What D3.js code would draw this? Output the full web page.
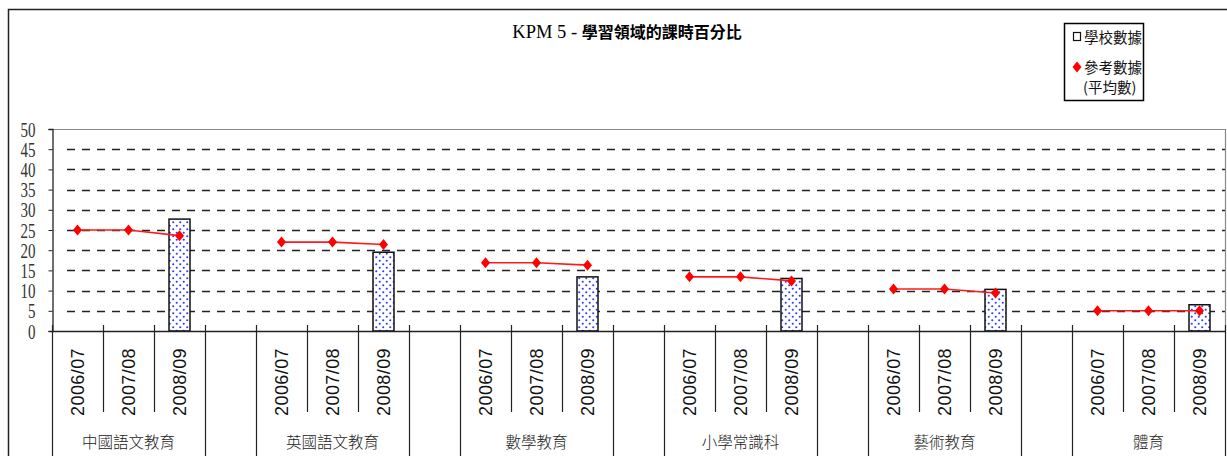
<!DOCTYPE html>
<html><head><meta charset="utf-8">
<script src="https://cdn.jsdelivr.net/npm/d3@7/dist/d3.min.js"></script>
<style>
html,body{margin:0;padding:0;background:#fff;}
svg{display:block;}
</style></head>
<body>
<svg id="chart" width="1227" height="456"></svg>
<script>
const groups = ["中國語文教育","英國語文教育","數學教育","小學常識科","藝術教育","體育"];
const years = ["2006/07","2007/08","2008/09"];
// school data (only 2008/09 available)
const schoolValues = [27.7, 19.5, 13.4, 13.0, 10.3, 6.5];
// reference data (average), per group for three years
const refValues = [
  [25.0, 25.0, 23.6],
  [22.0, 22.0, 21.4],
  [16.9, 16.9, 16.3],
  [13.4, 13.4, 12.4],
  [10.4, 10.4, 9.4],
  [5.0, 5.0, 5.0]
];
const yTicks = [0,5,10,15,20,25,30,35,40,45,50];
const titleLatin = "KPM 5 - ";
const titleCJK = "學習領域的課時百分比";
const legendLabels = ["學校數據","參考數據","(平均數)"];

const svg = d3.select("#chart");
const pL = 52, pR = 1225, pT = 129, pB = 331;

// categories: 3 years per group with a gap slot between groups
const cats = [];
groups.forEach((g, gi) => {
  years.forEach(y => cats.push(gi + "|" + y));
  if (gi < groups.length - 1) cats.push("gap" + gi);
});

const x = d3.scaleBand().domain(cats).range([pL, pR]).padding(0);
const y = d3.scaleLinear().domain([0, 50]).range([pB, pT]);

// pattern
const defs = svg.append("defs");
const pat = defs.append("pattern").attr("id","dots").attr("patternUnits","userSpaceOnUse")
  .attr("width",7).attr("height",7);
pat.append("rect").attr("width",7).attr("height",7).attr("fill","#fff");
pat.append("circle").attr("cx",1.75).attr("cy",1.75).attr("r",1.05).attr("fill","#2a3cff");
pat.append("circle").attr("cx",5.25).attr("cy",5.25).attr("r",1.05).attr("fill","#2a3cff");

// outer border
svg.append("rect").attr("x",8.5).attr("y",9.5).attr("width",1240).attr("height",470)
  .attr("fill","none").attr("stroke","#222").attr("stroke-width",1.5);

// gridlines
const grid = svg.append("g").attr("class","grid");
grid.selectAll("line").data(yTicks.filter(t => t > 0 && t < 50)).join("line")
  .attr("x1", pL + 15).attr("x2", pR)
  .attr("y1", d => Math.round(y(d)) + 0.5).attr("y2", d => Math.round(y(d)) + 0.5)
  .attr("stroke","#222").attr("stroke-width",1.3).attr("stroke-dasharray","8,7");

// plot border top/right
svg.append("line").attr("x1",pL).attr("x2",pR).attr("y1",y(50)+0.5).attr("y2",y(50)+0.5)
  .attr("stroke","#888").attr("stroke-width",1.2);
svg.append("line").attr("x1",pR+0.5).attr("x2",pR+0.5).attr("y1",y(50)).attr("y2",y(0))
  .attr("stroke","#888").attr("stroke-width",1.2);

// y axis
const yAxis = d3.axisLeft(y).tickValues(yTicks).tickSize(4).tickFormat(d3.format("d"));
const yg = svg.append("g").attr("transform",`translate(${pL+0.5},0)`).call(yAxis);
yg.select(".domain").attr("stroke","#222").attr("stroke-width",1.3);
yg.selectAll(".tick line").attr("stroke","#222");
yg.selectAll(".tick text").remove();
yg.selectAll(".tick").append("text")
  .attr("text-anchor","end")
  .attr("transform","translate(-17,7) scale(0.75,1)")
  .attr("font-family","'Liberation Serif','Times New Roman',serif")
  .attr("font-size",20).attr("fill","#333")
  .text(d => d);

// bars
svg.append("g").selectAll("rect").data(schoolValues).join("rect")
  .attr("x", (d,i) => x(i + "|" + years[2]) + x.bandwidth()/2 - 10.5)
  .attr("width", 21)
  .attr("y", d => y(d))
  .attr("height", d => y(0) - y(d))
  .attr("fill","url(#dots)").attr("stroke","#111").attr("stroke-width",1.5);

// x axis line
svg.append("line").attr("x1",pL).attr("x2",pR).attr("y1",pB+0.5).attr("y2",pB+0.5)
  .attr("stroke","#222").attr("stroke-width",1.5);

// ticks: boundaries of each slot
const bounds = cats.map(c => x(c)).concat([pR]);
const isLong = (i) => {
  const prev = cats[i-1], next = cats[i];
  if (!prev || !next) return true;
  return prev.startsWith("gap") || next.startsWith("gap");
};
svg.append("g").selectAll("line").data(bounds).join("line")
  .attr("x1", d => Math.round(d)+0.5).attr("x2", d => Math.round(d)+0.5)
  .attr("y1", pB - 6)
  .attr("y2", (d,i) => isLong(i) ? 456 : 412)
  .attr("stroke","#222").attr("stroke-width",1.2);

// year labels
const yearData = [];
groups.forEach((g, gi) => years.forEach(yr => yearData.push({key: gi + "|" + yr, yr})));
svg.append("g").selectAll("text").data(yearData).join("text")
  .attr("transform", d => `translate(${x(d.key) + x.bandwidth()/2 + 6.5},${348}) rotate(-90)`)
  .attr("text-anchor","end")
  .attr("font-family","'Liberation Sans',Arial,sans-serif")
  .attr("font-size",18).attr("letter-spacing",0.4).attr("fill","#111")
  .text(d => d.yr);

// group labels
svg.append("g").selectAll("text").data(groups).join("text")
  .attr("x", (d,gi) => x(gi + "|" + years[1]) + x.bandwidth()/2)
  .attr("y", 448)
  .attr("text-anchor","middle")
  .attr("font-family","'Noto Sans CJK TC','Noto Sans CJK SC',sans-serif")
  .attr("font-weight",300)
  .attr("font-size",15.5).attr("fill","#222")
  .text(d => d);

// reference lines
const line = d3.line().x(d => x(d.key) + x.bandwidth()/2).y(d => y(d.v));
const refData = refValues.map((arr, gi) => arr.map((v, yi) => ({key: gi + "|" + years[yi], v})));
const refG = svg.append("g");
refG.selectAll("path.ln").data(refData).join("path").attr("class","ln")
  .attr("d", line).attr("fill","none").attr("stroke","#ff1a1a").attr("stroke-width",1.6);
const diamond = "M0,-5.5L4.5,0L0,5.5L-4.5,0Z";
refG.selectAll("path.pt").data(refData.flat()).join("path").attr("class","pt")
  .attr("transform", d => `translate(${x(d.key) + x.bandwidth()/2},${y(d.v)})`)
  .attr("d", diamond).attr("fill","#ff0000");

// title
const title = svg.append("text").attr("x", 627).attr("y", 38).attr("text-anchor","middle")
  .attr("fill","#000");
title.append("tspan").attr("font-family","'Liberation Serif','Times New Roman',serif")
  .attr("font-size",18.5).text(titleLatin);
title.append("tspan").attr("font-family","'Noto Sans CJK TC',sans-serif").attr("font-weight",700)
  .attr("font-size",16).text(titleCJK);

// legend
const lg = svg.append("g");
lg.append("rect").attr("x",1064.5).attr("y",23.5).attr("width",79).attr("height",77)
  .attr("fill","#fff").attr("stroke","#000").attr("stroke-width",1.5);
lg.append("rect").attr("x",1073.5).attr("y",32.5).attr("width",7).attr("height",8)
  .attr("fill","#fff").attr("stroke","#111").attr("stroke-width",1.2);
lg.append("path").attr("transform","translate(1077,67)").attr("d",diamond).attr("fill","#ff0000");
const lt = [[1084,43],[1084,73],[1083,93]];
lg.selectAll("text").data(legendLabels).join("text")
  .attr("x",(d,i)=>lt[i][0]).attr("y",(d,i)=>lt[i][1])
  .attr("font-family","'Noto Sans CJK TC',sans-serif").attr("font-size",14.5)
  .attr("fill","#111").text(d=>d);
</script>
</body></html>
